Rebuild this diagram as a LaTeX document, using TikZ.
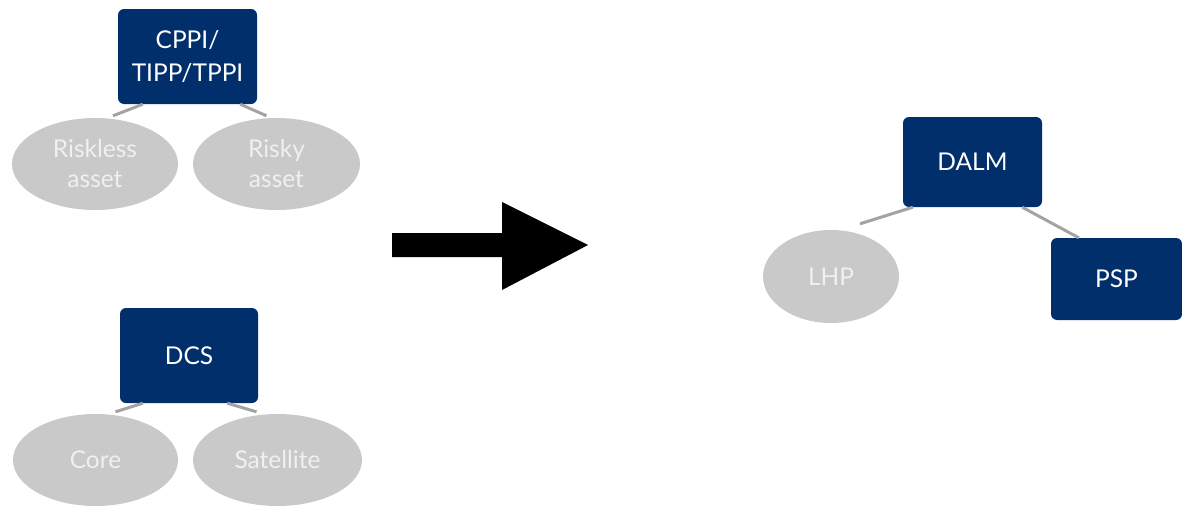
\documentclass[tikz,border=0pt]{standalone}
\usepackage{fontspec}
\setmainfont{Lato}
\usetikzlibrary{calc,shapes.geometric}
\definecolor{navy}{HTML}{002F6C}
\definecolor{ovalgray}{HTML}{C9C9C9}
\definecolor{ovaltext}{HTML}{F0F0F0}
\definecolor{linkgray}{HTML}{A3A3A3}
\begin{document}
\begin{tikzpicture}[x=1pt,y=-1pt,
  box/.style={draw=none,fill=navy,rounded corners=6pt,text=white,inner sep=0pt,align=center,font=\fontsize{24.5}{33}\selectfont},
  oval/.style={ellipse,fill=ovalgray,text=ovaltext,inner sep=0pt,align=center,font=\fontsize{24.5}{30}\selectfont},
  link/.style={draw=linkgray,line width=3pt}]
\useasboundingbox (0,0) rectangle (1182,506);
% top-left tree
\node[box,minimum width=139pt,minimum height=95pt] (cppi) at (187.5,56.5) {CPPI/\\TIPP/TPPI};
\node[oval,minimum width=166pt,minimum height=92pt] (riskless) at (95,164) {Riskless\\asset};
\node[oval,minimum width=167pt,minimum height=92pt] (risky) at (276.5,164) {Risky\\asset};
% bottom-left tree
\node[box,minimum width=138pt,minimum height=95pt] (dcs) at (189,355.5) {DCS};
\node[oval,minimum width=165pt,minimum height=92pt] (core) at (95.5,460) {Core};
\node[oval,minimum width=169pt,minimum height=92pt] (sat) at (277.5,460) {Satellite};
% right tree
\node[box,minimum width=139pt,minimum height=90pt] (dalm) at (972.5,162) {DALM};
\node[oval,minimum width=136pt,minimum height=93pt] (lhp) at (831,276.5) {LHP};
\node[box,minimum width=131pt,minimum height=82pt] (psp) at (1116.5,279) {PSP};
% connectors
\draw[link] ($(cppi.south west)+(25,0)$) -- ($(riskless.north)+(18,-2)$);
\draw[link] ($(cppi.south east)+(-17,0)$) -- ($(risky.north)+(-10,-2)$);
\draw[link] ($(dcs.south west)+(23,0)$) -- ($(core.north)+(20,-2)$);
\draw[link] ($(dcs.south east)+(-31,0)$) -- ($(sat.north)+(-21,-2)$);
\draw[link] ($(dalm.south west)+(10,0)$) -- ($(lhp.north)+(29,-6)$);
\draw[link] ($(dalm.south east)+(-20,0)$) -- ($(psp.north west)+(28,0)$);
% block arrow
\fill[black] (392,233) -- (502,233) -- (502,202) -- (588,245) -- (502,290) -- (502,257) -- (392,257) -- cycle;
\end{tikzpicture}
\end{document}
